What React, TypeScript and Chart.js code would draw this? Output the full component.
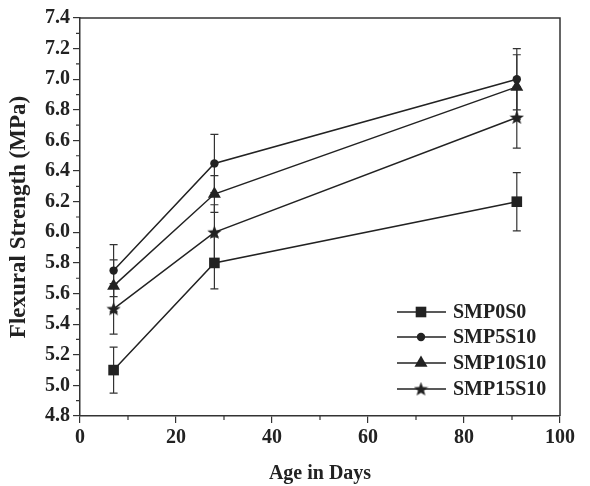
import React, { useEffect, useRef } from "react";
import { Chart, registerables } from "chart.js";
Chart.register(...registerables);

const ageDays = [7, 28, 91];
const seriesNames = ["SMP0S0", "SMP5S10", "SMP10S10", "SMP15S10"];
const smp0s0 = [5.1, 5.8, 6.2];
const smp5s10 = [5.75, 6.45, 7.0];
const smp10s10 = [5.65, 6.25, 6.95];
const smp15s10 = [5.5, 6.0, 6.75];
const err0s0 = [0.15, 0.17, 0.19];
const err5s10 = [0.17, 0.19, 0.2];
const err10s10 = [0.17, 0.12, 0.21];
const err15s10 = [0.165, 0.18, 0.2];
const xMin = 0, xMax = 100, xStep = 20, xMinorStep = 10;
const yMin = 4.8, yMax = 7.4, yStep = 0.2, yMinorStep = 0.1;
const xTitle = "Age in Days";
const yTitle = "Flexural Strength (MPa)";

const INK = "#222";
const FONT = "'Liberation Serif', 'Times New Roman', serif";

function makeStar(size: number): HTMLCanvasElement {
  const c = document.createElement("canvas");
  c.width = size; c.height = size;
  const ctx = c.getContext("2d")!;
  const cx = size / 2, cy = size / 2 + 0.5, R = size / 2, r = R * 0.42;
  ctx.beginPath();
  for (let i = 0; i < 10; i++) {
    const ang = -Math.PI / 2 + (i * Math.PI) / 5;
    const rad = i % 2 === 0 ? R : r;
    const px = cx + Math.cos(ang) * rad, py = cy + Math.sin(ang) * rad;
    if (i === 0) ctx.moveTo(px, py); else ctx.lineTo(px, py);
  }
  ctx.closePath();
  ctx.fillStyle = INK;
  ctx.fill();
  return c;
}

function drawMarker(ctx: CanvasRenderingContext2D, style: any, x: number, y: number, r: number) {
  ctx.save();
  ctx.fillStyle = INK;
  ctx.beginPath();
  if (style === "rect") {
    const s = Math.SQRT1_2 * r;
    ctx.rect(x - s, y - s, 2 * s, 2 * s);
    ctx.fill();
  } else if (style === "circle") {
    ctx.arc(x, y, r, 0, Math.PI * 2);
    ctx.fill();
  } else if (style === "triangle") {
    let rad = 0;
    ctx.moveTo(x + Math.sin(rad) * r, y - Math.cos(rad) * r);
    rad += (2 * Math.PI) / 3;
    ctx.lineTo(x + Math.sin(rad) * r, y - Math.cos(rad) * r);
    rad += (2 * Math.PI) / 3;
    ctx.lineTo(x + Math.sin(rad) * r, y - Math.cos(rad) * r);
    ctx.closePath();
    ctx.fill();
  } else if (style instanceof HTMLCanvasElement) {
    ctx.drawImage(style, x - style.width / 2, y - style.height / 2);
  }
  ctx.restore();
}

export default function App() {
  const ref = useRef<HTMLCanvasElement | null>(null);
  useEffect(() => {
    const star = makeStar(15);
    const values = [smp0s0, smp5s10, smp10s10, smp15s10];
    const errors = [err0s0, err5s10, err10s10, err15s10];
    const styles: any[] = ["rect", "circle", "triangle", star];
    const radii = [7.5, 4.2, 7.5, 7];

    const datasets = values.map((vals, i) => ({
      label: seriesNames[i],
      data: ageDays.map((x, j) => ({ x, y: vals[j] })),
      borderColor: INK,
      backgroundColor: INK,
      borderWidth: 1.5,
      pointStyle: styles[i],
      pointRadius: radii[i],
      pointBorderWidth: 0,
      pointBackgroundColor: INK,
      pointBorderColor: INK,
      showLine: true,
      fill: false,
      tension: 0,
    }));

    const errorBars = {
      id: "errorBars",
      beforeDatasetsDraw(chart: any) {
        const ctx = chart.ctx;
        const xs = chart.scales.x, ys = chart.scales.y;
        ctx.save();
        ctx.strokeStyle = "#333";
        ctx.lineWidth = 1.2;
        values.forEach((vals, i) => {
          ageDays.forEach((d, j) => {
            const px = xs.getPixelForValue(d);
            const top = ys.getPixelForValue(vals[j] + errors[i][j]);
            const bot = ys.getPixelForValue(vals[j] - errors[i][j]);
            ctx.beginPath();
            ctx.moveTo(px, top); ctx.lineTo(px, bot);
            ctx.moveTo(px - 4, top); ctx.lineTo(px + 4, top);
            ctx.moveTo(px - 4, bot); ctx.lineTo(px + 4, bot);
            ctx.stroke();
          });
        });
        ctx.restore();
      },
    };

    const frame = {
      id: "frame",
      afterDraw(chart: any) {
        const ctx = chart.ctx;
        const { left, right, top, bottom } = chart.chartArea;
        const xs = chart.scales.x, ys = chart.scales.y;
        ctx.save();
        ctx.strokeStyle = "#333";
        ctx.lineWidth = 1.5;
        ctx.beginPath();
        ctx.moveTo(left, top); ctx.lineTo(right, top); ctx.lineTo(right, bottom);
        ctx.stroke();
        ctx.lineWidth = 1.2;
        ctx.beginPath();
        for (let v = xMin + xMinorStep; v < xMax; v += xStep) {
          const px = xs.getPixelForValue(v);
          ctx.moveTo(px, bottom); ctx.lineTo(px, bottom + 4);
        }
        for (let k = 0; k < Math.round((yMax - yMin) / yStep); k++) {
          const v = yMin + yMinorStep + k * yStep;
          const py = ys.getPixelForValue(v);
          ctx.moveTo(left, py); ctx.lineTo(left - 4, py);
        }
        ctx.stroke();

        // legend
        const rows = [104, 79, 53, 27];
        ctx.font = `bold 20px ${FONT}`;
        ctx.textBaseline = "middle";
        ctx.textAlign = "left";
        rows.forEach((off, i) => {
          const y = bottom - off;
          ctx.strokeStyle = INK;
          ctx.lineWidth = 1.5;
          ctx.beginPath();
          ctx.moveTo(right - 163, y); ctx.lineTo(right - 114, y);
          ctx.stroke();
          drawMarker(ctx, styles[i], right - 139, y, radii[i]);
          ctx.fillStyle = INK;
          ctx.fillText(seriesNames[i], right - 107, y + 1);
        });
        ctx.restore();
      },
    };

    const chart = new Chart(ref.current!, {
      type: "line",
      data: { datasets },
      plugins: [errorBars, frame],
      options: {
        animation: false,
        responsive: false,
        layout: { padding: { top: 18, right: 30, left: 0, bottom: 0 } },
        plugins: { legend: { display: false }, tooltip: { enabled: false } },
        scales: {
          x: {
            type: "linear",
            min: xMin, max: xMax,
            ticks: { stepSize: xStep, color: INK, padding: 3, font: { family: FONT, size: 20, weight: "bold" }, maxRotation: 0 },
            grid: { drawOnChartArea: false, drawTicks: true, tickLength: 7, color: "#333", lineWidth: 1.2 },
            border: { color: "#333", width: 1.5 },
            title: { display: true, text: xTitle, color: INK, font: { family: FONT, size: 20, weight: "bold" }, padding: { top: 0, bottom: 0 } },
            afterFit: (s: any) => { s.height = 70; },
          },
          y: {
            type: "linear",
            min: yMin, max: yMax,
            ticks: { stepSize: yStep, color: INK, padding: 3, font: { family: FONT, size: 20, weight: "bold" }, callback: (v: any) => Number(v).toFixed(1) },
            grid: { drawOnChartArea: false, drawTicks: true, tickLength: 7, color: "#333", lineWidth: 1.2 },
            border: { color: "#333", width: 1.5 },
            title: { display: true, text: yTitle, color: INK, font: { family: FONT, size: 23, weight: "bold" }, padding: { top: 5, bottom: 0 } },
            afterFit: (s: any) => { s.width = 80; },
          },
        },
      } as any,
    });
    return () => chart.destroy();
  }, []);

  return (
    <div style={{ position: "fixed", left: 0, top: 0, width: 590, height: 486, background: "#fff" }}>
      <canvas ref={ref} width={590} height={486} style={{ width: 590, height: 486, display: "block" }} />
    </div>
  );
}
